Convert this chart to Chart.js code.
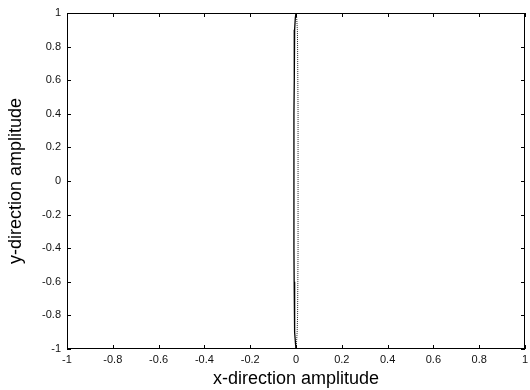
<!DOCTYPE html>
<html>
<head>
<meta charset="utf-8">
<script src="https://cdn.jsdelivr.net/npm/chart.js@4"></script>
<style>
  html, body { margin: 0; padding: 0; background: #fff; }
  #wrap { width: 530px; height: 390px; }
</style>
</head>
<body>
<div id="wrap"><canvas id="plot"></canvas></div>
<script>
// values
const tickValues = [-1, -0.8, -0.6, -0.4, -0.2, 0, 0.2, 0.4, 0.6, 0.8, 1];
const yLevels = [1, 0.97, 0.9, 0.8, 0.6, 0.4, 0.2, 0, -0.2, -0.4, -0.6, -0.8, -0.9, -0.97, -1];
const xLeft  = [0, -0.003, -0.006, -0.007, -0.008, -0.009, -0.009, -0.009, -0.009, -0.009, -0.008, -0.007, -0.005, -0.002, 0];
const xRight = [0, 0.003, 0.006, 0.007, 0.008, 0.009, 0.009, 0.009, 0.009, 0.009, 0.008, 0.007, 0.005, 0.002, 0];

const leftPts = yLevels.map((y, i) => ({ x: xLeft[i], y: y }));
const rightPts = yLevels.map((y, i) => ({ x: xRight[i], y: y }));

// matlab style box + inward tick marks
const boxPlugin = {
  id: 'box',
  afterDraw(chart) {
    const ctx = chart.ctx, a = chart.chartArea;
    const xs = chart.scales.x, ys = chart.scales.y;
    ctx.save();
    ctx.strokeStyle = '#000';
    ctx.lineWidth = 1;
    ctx.strokeRect(a.left + 0.5, a.top + 0.5, a.right - a.left - 1, a.bottom - a.top - 1);
    ctx.beginPath();
    tickValues.forEach(v => {
      const px = Math.round(xs.getPixelForValue(v)) + 0.5;
      ctx.moveTo(px, a.bottom); ctx.lineTo(px, a.bottom - 4);
      ctx.moveTo(px, a.top); ctx.lineTo(px, a.top + 4);
      const py = Math.round(ys.getPixelForValue(v)) + 0.5;
      ctx.moveTo(a.left, py); ctx.lineTo(a.left + 4, py);
      ctx.moveTo(a.right, py); ctx.lineTo(a.right - 4, py);
    });
    ctx.stroke();
    ctx.restore();
  }
};

const fmt = v => String(Math.round(v * 10) / 10);
const FAMILY = 'Liberation Sans, Arial, sans-serif';

new Chart(document.getElementById('plot'), {
  type: 'scatter',
  data: {
    datasets: [
      {
        data: leftPts,
        showLine: true,
        borderColor: '#000',
        borderWidth: 1.3,
        pointRadius: 0,
        fill: false,
        tension: 0
      },
      {
        data: rightPts,
        showLine: true,
        borderColor: '#222',
        borderWidth: 1,
        borderDash: [1, 1],
        pointRadius: 0,
        fill: false,
        tension: 0
      }
    ]
  },
  options: {
    responsive: true,
    maintainAspectRatio: false,
    animation: false,
    layout: { padding: { left: 0, right: 5, top: 13, bottom: 0 } },
    plugins: { legend: { display: false }, tooltip: { enabled: false } },
    scales: {
      x: {
        type: 'linear',
        min: -1, max: 1,
        afterBuildTicks: s => { s.ticks = tickValues.map(v => ({ value: v })); },
        afterFit: s => { s.height = 41; s.paddingRight = 0; s.paddingLeft = 0; },
        grid: { display: false, drawTicks: false },
        border: { display: false },
        ticks: {
          color: '#111',
          padding: 4,
          maxRotation: 0,
          autoSkip: false,
          font: { family: FAMILY, size: 11 },
          callback: v => fmt(v)
        },
        title: {
          display: true,
          text: 'x-direction amplitude',
          color: '#000',
          padding: { top: 0, bottom: 0 },
          font: { family: FAMILY, size: 18 }
        }
      },
      y: {
        type: 'linear',
        min: -1, max: 1,
        afterBuildTicks: s => { s.ticks = tickValues.map(v => ({ value: v })); },
        afterFit: s => { s.width = 67; },
        grid: { display: false, drawTicks: false },
        border: { display: false },
        ticks: {
          color: '#111',
          padding: 6,
          autoSkip: false,
          font: { family: FAMILY, size: 11 },
          callback: v => fmt(v)
        },
        title: {
          display: true,
          text: 'y-direction amplitude',
          color: '#000',
          padding: { top: 5, bottom: 2 },
          font: { family: FAMILY, size: 18 }
        }
      }
    }
  },
  plugins: [boxPlugin]
});
</script>
</body>
</html>
